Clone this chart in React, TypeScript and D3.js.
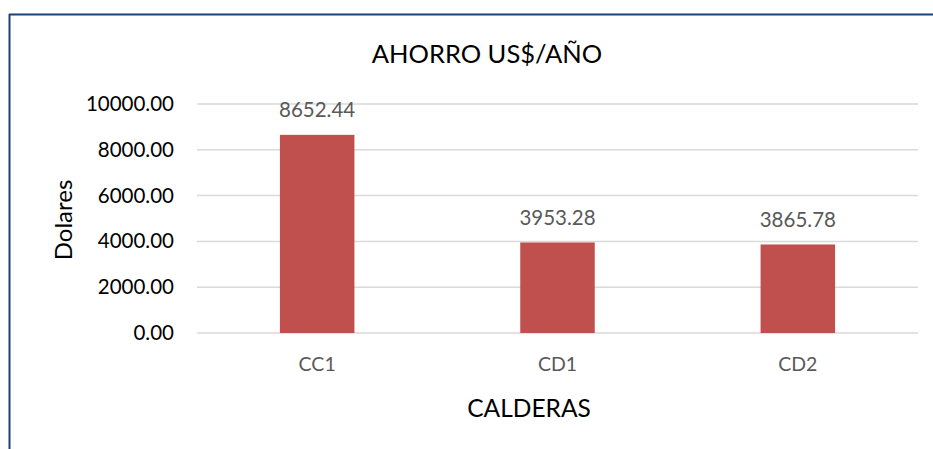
import React from 'react';
import * as d3 from 'd3';

// chart data
const categories = ['CC1', 'CD1', 'CD2'];
const ahorro = [8652.44, 3953.28, 3865.78];
const yTicks = [0, 2000, 4000, 6000, 8000, 10000];

const W = 933;
const H = 449;
const font = 'Lato, "Open Sans", sans-serif';

export default function App() {
  const x = d3.scaleBand<string>()
    .domain(categories)
    .range([197, 918])
    .paddingInner(0.69)
    .paddingOuter(0.345);
  const y = d3.scaleLinear().domain([0, 10000]).range([333, 104]);
  const fmt = d3.format('.2f');

  return (
    <svg
      width={W}
      height={H}
      style={{ position: 'absolute', left: 0, top: 0, display: 'block', background: '#fff' }}
    >
      {/* frame: top + left edge only visible */}
      <line x1={9} y1={14.5} x2={W} y2={14.5} stroke="#1F3E79" strokeWidth={2} />
      <line x1={9.5} y1={14} x2={9.5} y2={H} stroke="#1F3E79" strokeWidth={2} />

      <text x={487} y={63} textAnchor="middle" fontFamily={font} fontSize={25.5} fill="#000">
        AHORRO US$/AÑO
      </text>

      {/* gridlines + y tick labels */}
      {yTicks.map(t => (
        <g key={t}>
          <line x1={197} x2={918} y1={y(t)} y2={y(t)} stroke="#d9d9d9" strokeWidth={1.5} />
          <text x={174} y={y(t) + 7} textAnchor="end" fontFamily={font} fontSize={20.5} fill="#000">
            {fmt(t)}
          </text>
        </g>
      ))}

      {/* bars with value labels */}
      {categories.map((c, i) => {
        const bx = x(c) as number;
        const top = y(ahorro[i]);
        return (
          <g key={c}>
            <rect x={bx} y={top} width={x.bandwidth()} height={y(0) - top} fill="#C0504D" />
            <text
              x={bx + x.bandwidth() / 2}
              y={top - 17.5}
              textAnchor="middle"
              fontFamily={font}
              fontSize={20.5}
              fill="#595959"
            >
              {ahorro[i].toFixed(2)}
            </text>
            <text
              x={bx + x.bandwidth() / 2}
              y={371}
              textAnchor="middle"
              fontFamily={font}
              fontSize={19.5}
              fill="#595959"
            >
              {c}
            </text>
          </g>
        );
      })}

      <text x={529} y={417} textAnchor="middle" fontFamily={font} fontSize={24.5} fill="#000">
        CALDERAS
      </text>
      <text
        transform="translate(72,220) rotate(-90)"
        textAnchor="middle"
        fontFamily={font}
        fontSize={24}
        fill="#000"
      >
        Dolares
      </text>
    </svg>
  );
}
